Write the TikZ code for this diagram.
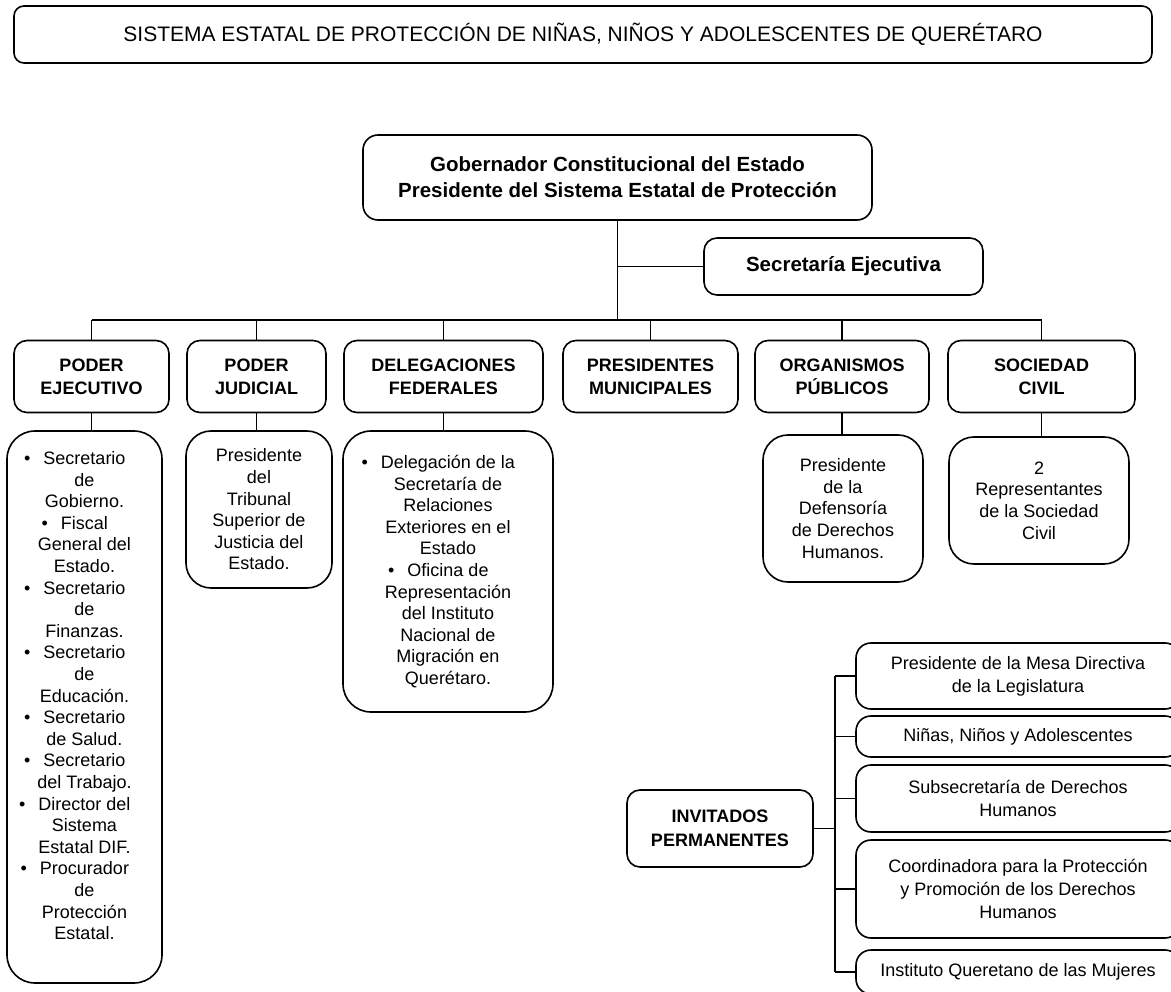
\documentclass[tikz,border=0pt]{standalone}
\usepackage{fontspec}
\setmainfont{Liberation Sans}
\usetikzlibrary{positioning}

\tikzset{
  box/.style={draw, line width=1.6pt, rounded corners=13pt, inner sep=0pt,
    align=center, font=\fontsize{18}{23}\selectfont},
  head/.style={box, minimum height=72, font=\bfseries\fontsize{18}{23}\selectfont},
  sublist/.style={box, rounded corners=28pt, font=\fontsize{18}{21.6}\selectfont},
  guest/.style={box, rounded corners=15pt, minimum width=324},
  link/.style={line width=1.3pt},
}
\newcommand{\itm}{\llap{\textbullet\hspace{13pt}}}

\begin{document}
\begin{tikzpicture}[x=1pt, y=-1pt]
  \path[use as bounding box] (0,0) rectangle (1171,992);
  \clip (0,0) rectangle (1171,992);

  % encabezado
  \node[box, rounded corners=10pt, minimum width=1138, minimum height=57,
    font=\fontsize{21}{25}\selectfont] (titulo) at (583,34.5)
    {SISTEMA ESTATAL DE PROTECCIÓN DE NIÑAS, NIÑOS Y ADOLESCENTES DE QUERÉTARO};

  % presidencia y secretaria
  \node[box, rounded corners=15pt, minimum width=509, minimum height=85,
    font=\bfseries\fontsize{20.5}{26}\selectfont] (gob) at (617.5,177.5)
    {Gobernador Constitucional del Estado\\Presidente del Sistema Estatal de Protección};
  \node[box, minimum width=279, minimum height=57,
    font=\bfseries\fontsize{20.5}{25}\selectfont] (secr) at (843.5,266.5)
    {Secretaría Ejecutiva};

  % integrantes
  \node[head, minimum width=155] (ejec) at (91.5,376.5) {PODER\\EJECUTIVO};
  \node[head, minimum width=139] (judi) at (256.5,376.5) {PODER\\JUDICIAL};
  \node[head, minimum width=199] (dele) at (443.5,376.5) {DELEGACIONES\\FEDERALES};
  \node[head, minimum width=175] (muni) at (650.5,376.5) {PRESIDENTES\\MUNICIPALES};
  \node[head, minimum width=174] (orga) at (842,376.5) {ORGANISMOS\\PÚBLICOS};
  \node[head, minimum width=187] (soci) at (1041.5,376.5) {SOCIEDAD\\CIVIL};

  % titulares
  \node[sublist, minimum width=155, minimum height=552] (ejec-sub) at (84.5,707)
    {\itm Secretario\\de\\Gobierno.\\\itm Fiscal\\General del\\Estado.\\
     \itm Secretario\\de\\Finanzas.\\\itm Secretario\\de\\Educación.\\
     \itm Secretario\\de Salud.\\\itm Secretario\\del Trabajo.\\
     \itm Director del\\Sistema\\Estatal DIF.\\
     \itm Procurador\\de\\Protección\\Estatal.\rule[-23pt]{0pt}{23pt}};
  \node[sublist, rounded corners=25pt, minimum width=146, minimum height=157] (judi-sub) at (259,509.5)
    {Presidente\\del\\Tribunal\\Superior de\\Justicia del\\Estado.};
  \node[sublist, minimum width=210, minimum height=281] (dele-sub) at (448,571.5)
    {\itm Delegación de la\\Secretaría de\\Relaciones\\Exteriores en el\\Estado\\
     \itm Oficina de\\Representación\\del Instituto\\Nacional de\\Migración en\\Querétaro.};
  \node[sublist, rounded corners=25pt, minimum width=160, minimum height=147] (orga-sub) at (843,508.5)
    {Presidente\\de la\\Defensoría\\de Derechos\\Humanos.};
  \node[sublist, rounded corners=25pt, minimum width=180, minimum height=127] (soci-sub) at (1039,500.5)
    {2\\Representantes\\de la Sociedad\\Civil};

  % invitados permanentes
  \node[box, minimum width=186, minimum height=77,
    font=\bfseries\fontsize{18}{24}\selectfont] (invi) at (720,828.5)
    {INVITADOS\\PERMANENTES};
  \node[guest, minimum height=66] (r1) at (1018,676) {Presidente de la Mesa Directiva\\de la Legislatura};
  \node[guest, minimum height=41] (r2) at (1018,736.5) {Niñas, Niños y Adolescentes};
  \node[guest, minimum height=67] (r3) at (1018,798.5) {Subsecretaría de Derechos\\Humanos};
  \node[guest, minimum height=98] (r4) at (1018,889) {Coordinadora para la Protección\\y Promoción de los Derechos\\Humanos};
  \node[guest, minimum height=44] (r5) at (1018,972) {Instituto Queretano de las Mujeres};

  % conectores
  \coordinate (bus) at (617.5,320);
  \coordinate (brk) at (835,830);
  \draw[link] (gob.south) -- (gob.south |- bus);
  \draw[link] (secr.west) -- (secr.west -| gob.south);
  \draw[link] (bus -| ejec.north) -- (bus -| soci.north);
  \foreach \n in {ejec,judi,dele,muni,orga,soci}
    \draw[link] (bus -| \n.north) -- (\n.north);
  \foreach \n in {ejec,judi,dele,orga,soci}
    \draw[link] (\n.south) -- (\n.south |- \n-sub.north);
  \draw[link] (invi.east) -- (invi.east -| brk);
  \draw[link] (r1.west -| brk) -- (r5.west -| brk);
  \foreach \i in {1,...,5}
    \draw[link] (r\i.west -| brk) -- (r\i.west);
\end{tikzpicture}
\end{document}
